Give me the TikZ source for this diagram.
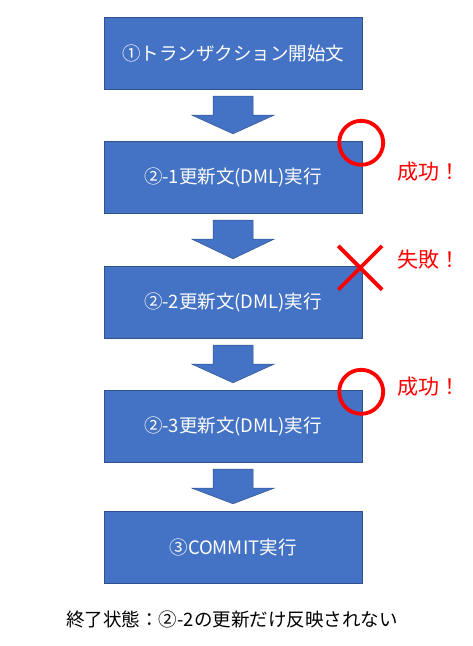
\documentclass[tikz,border=0pt]{standalone}
\usepackage{fontspec}
\setmainfont{Noto Sans CJK JP}
\usetikzlibrary{calc,shapes.misc}
\definecolor{stepblue}{HTML}{4472C4}
\definecolor{stepedge}{HTML}{2F528F}
\definecolor{markred}{HTML}{FF0000}

\begin{document}
\begin{tikzpicture}[x=1pt,y=-1pt,
    stepbox/.style={draw=stepedge,fill=stepblue,text=white,minimum width=258pt,
      minimum height=72pt,inner sep=0pt,font=\fontsize{18.5}{20}\selectfont},
    flowarrow/.style={draw=stepedge,fill=stepblue,line width=0.5pt},
    okmark/.style={circle,draw=markred,line width=3.8pt,minimum size=44pt,inner sep=0pt},
    ngmark/.style={cross out,draw=markred,line width=3.8pt,minimum size=40pt,inner sep=0pt},
    result/.style={text=markred,anchor=west,inner sep=0pt,font=\fontsize{21}{24}\selectfont}
  ]
  \useasboundingbox (0,0) rectangle (473,646);
  % the steps
  \node[stepbox] (b1) at (233,53)  {①トランザクション開始文};
  \node[stepbox] (b2) at (233,177) {②-1更新文(DML)実行};
  \node[stepbox] (b3) at (233,302) {②-2更新文(DML)実行};
  \node[stepbox] (b4) at (233,426) {②-3更新文(DML)実行};
  \node[stepbox] (b5) at (233,547) {③COMMIT実行};
  % block arrows between the steps
  \foreach \i/\j in {1/2,2/3,3/4,4/5}
    \draw[flowarrow] ($(b\i.south)+(-20,7)$) -- ($(b\i.south)+(20,7)$)
      -- ($(b\i.south)+(20,26)$) -- ($(b\i.south)+(41,26)$)
      -- ($(b\j.north)+(0,-7)$) -- ($(b\i.south)+(-41,26)$)
      -- ($(b\i.south)+(-20,26)$) -- cycle;
  % marks
  \node[okmark] (ok1) at ($(b2.north east)+(-1,2)$) {};
  \node[ngmark] (ng2) at ($(b3.north east)+(-2,2)$) {};
  \node[okmark] (ok3) at ($(b4.north east)+(-1,2)$) {};
  \node[result] (r1) at (397,172) {成功！};
  \node[result] (r2) at (397,260) {失敗！};
  \node[result] (r3) at (397,387) {成功！};
  \node[font=\fontsize{18.5}{20}\selectfont] (note) at (232,619) {終了状態：②-2の更新だけ反映されない};
\end{tikzpicture}
\end{document}
